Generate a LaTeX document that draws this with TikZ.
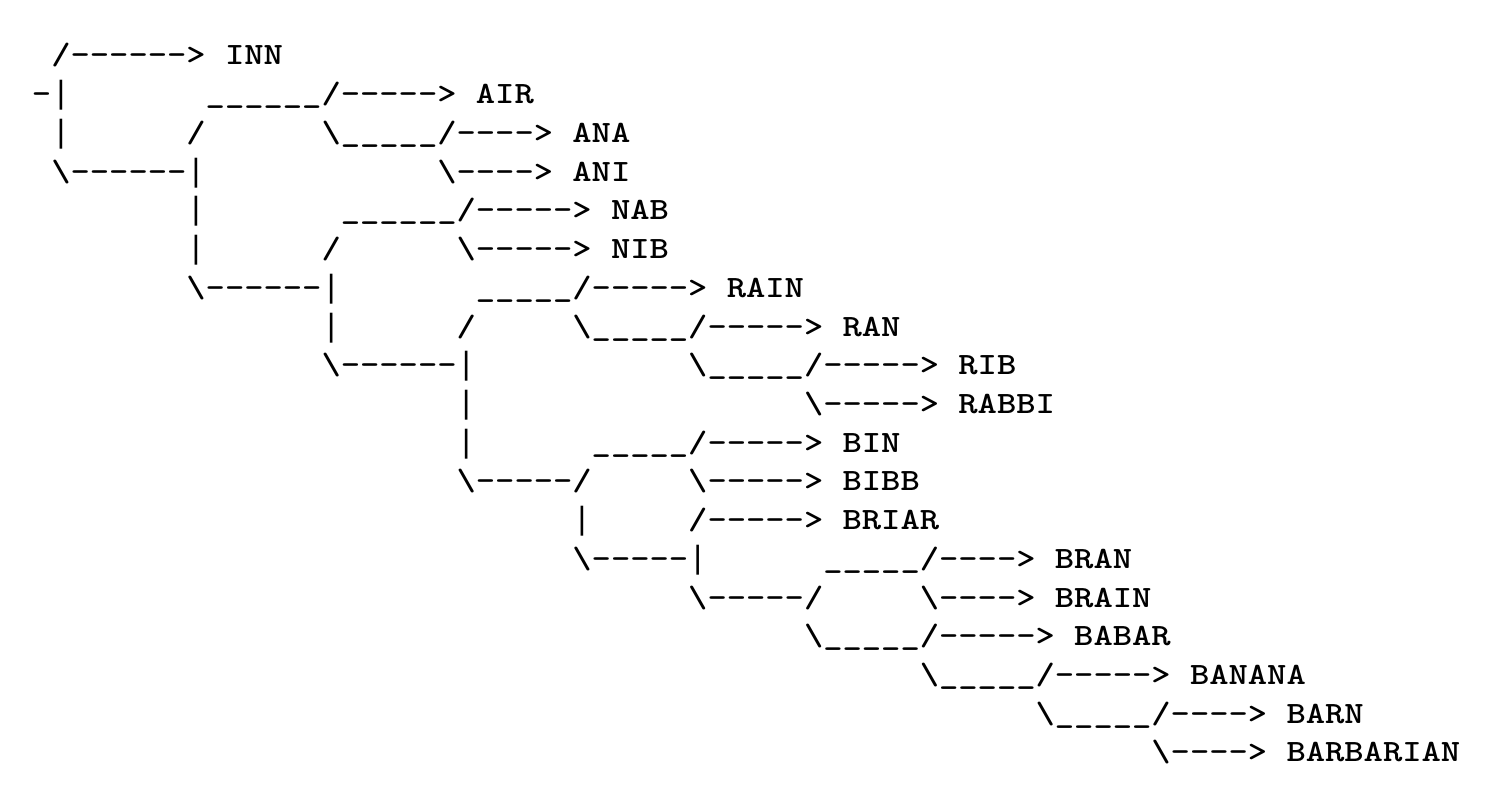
\documentclass[tikz,border=0pt]{standalone}
\usepackage{fontspec}
\newfontfamily\asc{lmmonolt10-bold}[Extension=.otf, FakeStretch=1.186, Ligatures=TeXOff]
\newfontfamily\barf{Liberation Mono}
\newcommand\BS{\textbackslash}
\newcommand\US{\_}
\newcommand\VB{{\barf\fontsize{16.08pt}{18pt}\selectfont|}}
\begin{document}
\begin{tikzpicture}[x=9.65pt,y=19.36pt,
  art/.style={anchor=base west, inner sep=0pt, outer sep=0pt, text=black,
    font={\asc\fontsize{15.5pt}{18pt}\selectfont}}]
\useasboundingbox[fill=white] (0pt,0pt) rectangle (752pt,-404pt);
\begin{scope}[shift={(16pt,-32.5pt)}]
% row 1
\node[art] (a1) at (1,0) {/------>};
\node[art] (inn) at (10,0) {INN};
% row 2
\node[art] (a2) at (0,-1) {-\VB};
\node[art] (b2) at (9,-1) {\US\US\US\US\US\US/----->};
\node[art] (air) at (23,-1) {AIR};
% row 3
\node[art] (a3) at (1,-2) {\VB};
\node[art] (b3) at (8,-2) {/};
\node[art] (c3) at (15,-2) {\BS\US\US\US\US\US/---->};
\node[art] (ana) at (28,-2) {ANA};
% row 4
\node[art] (a4) at (1,-3) {\BS------\VB};
\node[art] (b4) at (21,-3) {\BS---->};
\node[art] (ani) at (28,-3) {ANI};
% row 5
\node[art] (a5) at (8,-4) {\VB};
\node[art] (b5) at (16,-4) {\US\US\US\US\US\US/----->};
\node[art] (nab) at (30,-4) {NAB};
% row 6
\node[art] (a6) at (8,-5) {\VB};
\node[art] (b6) at (15,-5) {/};
\node[art] (c6) at (22,-5) {\BS----->};
\node[art] (nib) at (30,-5) {NIB};
% row 7
\node[art] (a7) at (8,-6) {\BS------\VB};
\node[art] (b7) at (23,-6) {\US\US\US\US\US/----->};
\node[art] (rain) at (36,-6) {RAIN};
% row 8
\node[art] (a8) at (15,-7) {\VB};
\node[art] (b8) at (22,-7) {/};
\node[art] (c8) at (28,-7) {\BS\US\US\US\US\US/----->};
\node[art] (ran) at (42,-7) {RAN};
% row 9
\node[art] (a9) at (15,-8) {\BS------\VB};
\node[art] (b9) at (34,-8) {\BS\US\US\US\US\US/----->};
\node[art] (rib) at (48,-8) {RIB};
% row 10
\node[art] (a10) at (22,-9) {\VB};
\node[art] (b10) at (40,-9) {\BS----->};
\node[art] (rabbi) at (48,-9) {RABBI};
% row 11
\node[art] (a11) at (22,-10) {\VB};
\node[art] (b11) at (29,-10) {\US\US\US\US\US/----->};
\node[art] (bin) at (42,-10) {BIN};
% row 12
\node[art] (a12) at (22,-11) {\BS-----/};
\node[art] (b12) at (34,-11) {\BS----->};
\node[art] (bibb) at (42,-11) {BIBB};
% row 13
\node[art] (a13) at (28,-12) {\VB};
\node[art] (b13) at (34,-12) {/----->};
\node[art] (briar) at (42,-12) {BRIAR};
% row 14
\node[art] (a14) at (28,-13) {\BS-----\VB};
\node[art] (b14) at (41,-13) {\US\US\US\US\US/---->};
\node[art] (bran) at (53,-13) {BRAN};
% row 15
\node[art] (a15) at (34,-14) {\BS-----/};
\node[art] (b15) at (46,-14) {\BS---->};
\node[art] (brain) at (53,-14) {BRAIN};
% row 16
\node[art] (a16) at (40,-15) {\BS\US\US\US\US\US/----->};
\node[art] (babar) at (54,-15) {BABAR};
% row 17
\node[art] (a17) at (46,-16) {\BS\US\US\US\US\US/----->};
\node[art] (banana) at (60,-16) {BANANA};
% row 18
\node[art] (a18) at (52,-17) {\BS\US\US\US\US\US/---->};
\node[art] (barn) at (65,-17) {BARN};
% row 19
\node[art] (a19) at (58,-18) {\BS---->};
\node[art] (barbarian) at (65,-18) {BARBARIAN};
\end{scope}
\end{tikzpicture}
\end{document}
